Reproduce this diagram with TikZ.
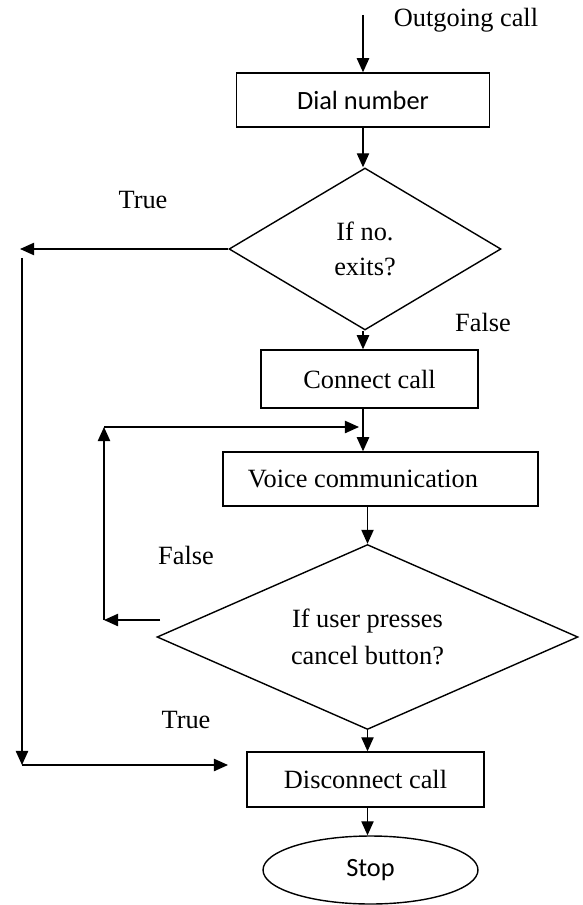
\documentclass[tikz,border=0pt]{standalone}
\usepackage{fontspec}
\setmainfont{Liberation Serif}
\newfontfamily\calfont{Carlito}
\usepackage{tikz}
\usetikzlibrary{shapes.geometric,arrows.meta}

\tikzset{
  flow/.style={line width=0.8pt,-{Triangle[length=8pt,width=7pt]}},
  box/.style={draw,line width=0.8pt,rectangle,inner sep=0pt},
  test/.style={draw,line width=0.8pt,diamond,inner sep=0pt,align=center},
  txt/.style={font=\fontsize{15}{17}\selectfont}
}

\begin{document}
\begin{tikzpicture}[x=0.02cm,y=-0.02cm,every node/.style={txt}]
  \useasboundingbox (0,0) rectangle (582,905);
  % Boxes and decisions
  \node[box,minimum width=5.06cm,minimum height=1.08cm,font=\calfont\fontsize{15}{17}\selectfont] (dial) at (363,100) {Dial number};
  \node[test,aspect=1.68,minimum width=5.44cm,minimum height=3.24cm] (exists) at (365,249) {If no.\\[3pt]exits?};
  \node[box,minimum width=4.34cm,minimum height=1.16cm] (connect) at (369.5,379) {Connect call};
  \node[box,minimum width=6.3cm,minimum height=1.08cm] (voice) at (380.5,479) {Voice communication\kern0.7cm};
  \node[test,aspect=2.28,minimum width=8.42cm,minimum height=3.7cm] (cancel) at (367.5,637) {If user presses\\[4pt]cancel button?};
  \node[box,minimum width=4.74cm,minimum height=1.1cm] (disc) at (365.5,779.5) {Disconnect call};
  \node[draw,line width=0.8pt,ellipse,minimum width=4.3cm,minimum height=1.36cm,font=\calfont\fontsize{15}{17}\selectfont] (stop) at (370.5,870) {Stop};
  % Free ends of the connectors
  \coordinate (start) at (363,15);
  \coordinate (trueL) at (20,249);
  \coordinate (trueT) at (22,258);
  \coordinate (trueB) at (22,765);
  \coordinate (trueE) at (228,765);
  \coordinate (falseS) at (160,620);
  \coordinate (falseL) at (104,620);
  \coordinate (loopT) at (104,427);
  \coordinate (loopE) at (359,427);
  % Main flow
  \draw[flow] (start) -- (start |- dial.north);
  \draw[flow] (dial.south) -- (dial.south |- exists.north);
  \draw[flow] (exists.south -| dial.south) -- (dial.south |- connect.north);
  \draw[flow] (dial.south |- connect.south) -- (dial.south |- voice.north);
  \draw[flow] (cancel.north |- voice.south) -- (cancel.north);
  \draw[flow] (cancel.south) -- (cancel.south |- disc.north);
  \draw[flow] (cancel.south |- disc.south) -- (cancel.south |- stop.north);
  % True branch of the first test
  \draw[flow] (exists.west) -- (trueL);
  \draw[flow] (trueT) -- (trueB);
  \draw[flow] (trueB) -- (trueE);
  % False branch of the second test
  \draw[flow] (falseS) -- (falseL);
  \draw[flow] (falseL) -- (loopT);
  \draw[flow] (loopT) -- (loopE);
  % Labels
  \node (outlbl) at (466,20) {Outgoing call};
  \node (true1) at (143,200) {True};
  \node (false1) at (483,322) {False};
  \node (false2) at (186,555) {False};
  \node (true2) at (186,720) {True};
\end{tikzpicture}
\end{document}
